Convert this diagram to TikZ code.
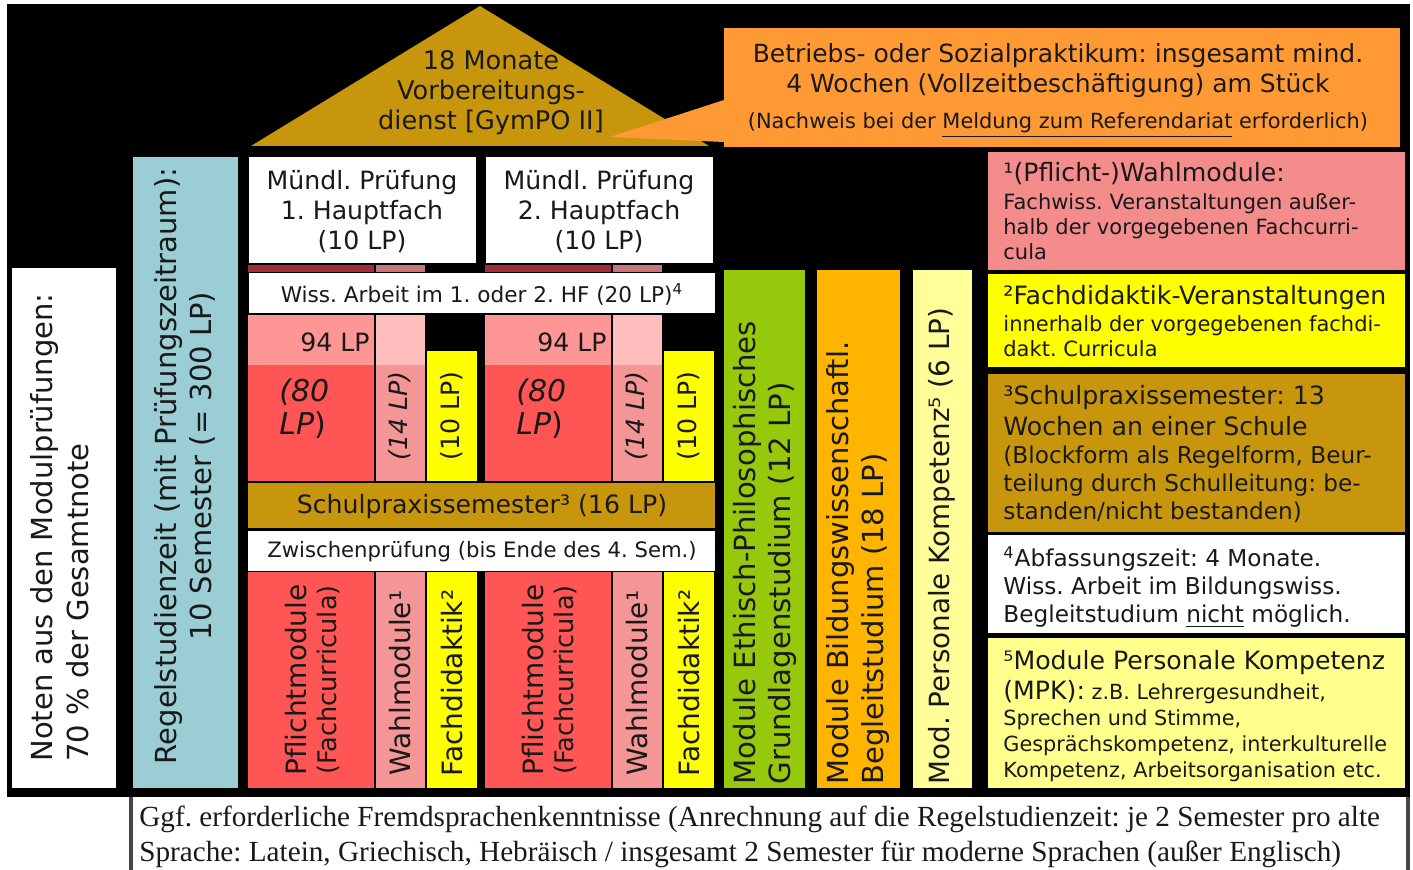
\documentclass[tikz,border=0pt]{standalone}
\usepackage{fontspec}
\setmainfont{DejaVu Sans}
\newfontfamily\serifnote{Liberation Serif}
\frenchspacing

\definecolor{gold}{RGB}{200,150,12}
\definecolor{praktorange}{RGB}{255,153,51}
\definecolor{rot}{RGB}{255,85,85}
\definecolor{rotlight}{RGB}{255,150,150}
\definecolor{rotdark}{RGB}{160,45,55}
\definecolor{rosa}{RGB}{245,150,150}
\definecolor{rosalight}{RGB}{255,190,190}
\definecolor{rosadark}{RGB}{200,120,125}
\definecolor{gelb}{RGB}{255,255,0}
\definecolor{hellblau}{RGB}{155,205,212}
\definecolor{gruen}{RGB}{150,200,12}
\definecolor{bworange}{RGB}{255,180,0}
\definecolor{hellgelb}{RGB}{255,255,153}
\definecolor{fnrosa}{RGB}{244,140,140}
\definecolor{fngelb}{RGB}{255,255,140}
\definecolor{grauline}{RGB}{70,70,70}

\tikzset{
  txt/.style={inner sep=0pt, text=black!90, align=center},
  big/.style={txt, font=\fontsize{12.6}{15}\selectfont},
  small/.style={txt, font=\fontsize{10.4}{12}\selectfont},
  side/.style={txt, rotate=90, font=\fontsize{14.5}{17.5}\selectfont},
  colnote/.style={side, font=\fontsize{14}{15}\selectfont},
  fnote/.style={txt, align=left, anchor=north west, font=\fontsize{10.5}{12.5}\selectfont},
}
\newcommand{\gross}{\fontsize{12.6}{15}\selectfont}

\begin{document}
\begin{tikzpicture}[x=0.5pt, y=-0.5pt]
  \useasboundingbox (0,0) rectangle (1413,870);
  \fill[black] (7,4) rectangle (1410,797);

  % roof: Vorbereitungsdienst
  \fill[gold] (251,146) -- (480,6) -- (709,146) -- cycle;
  \node[txt, font=\fontsize{12.8}{15}\selectfont] (vorb) at (491,93) {18 Monate\\Vorbereitungs-\\dienst [GymPO II]};

  % callout: Praktikum
  \coordinate (spitze) at (610,137);
  \fill[praktorange] (724,28) rectangle (1400,147);
  \fill[praktorange] (724,100) -- (spitze) -- (724,142) -- cycle;
  \node[txt, font=\fontsize{12.5}{15}\selectfont] (prakt) at (1058,71) {Betriebs- oder Sozialpraktikum: insgesamt mind.\\4 Wochen (Vollzeitbeschäftigung) am Stück};
  \node[txt, font=\fontsize{10.45}{12}\selectfont] (nachweis) at (1058,125) {(Nachweis bei der \underline{Meldung zum Referendariat} erforderlich)};

  % left side
  \fill[white] (12,268) rectangle (116,788);
  \node[side, anchor=west, align=left, font=\fontsize{14.5}{18}\selectfont] (noten) at (60,762) {Noten aus den Modulprüfungen:\\70 \% der Gesamtnote};
  \fill[hellblau] (133,157) rectangle (238,788);
  \node[side] (regel) at (185,466) {Regelstudienzeit (mit Prüfungszeitraum):\\10 Semester (= 300 LP)};

  % Hauptfaecher
  \foreach \i/\dx in {1/0, 2/237} {
    \fill[white] (249+\dx,157) rectangle (476+\dx,263);
    \node[big] (muendl\i) at (362+\dx,212) {Mündl. Prüfung\\\i. Hauptfach\\(10 LP)};
    \fill[rotdark] (248+\dx,265) rectangle (374+\dx,272);
    \fill[rosadark] (376+\dx,265) rectangle (425+\dx,272);
    % upper part
    \fill[rotlight] (248+\dx,315) rectangle (374+\dx,365);
    \fill[rot] (248+\dx,365) rectangle (374+\dx,481);
    \fill[rosalight] (376+\dx,315) rectangle (425+\dx,365);
    \fill[rosa] (376+\dx,365) rectangle (425+\dx,481);
    \fill[gelb] (427+\dx,351) rectangle (477+\dx,481);
    \node[big, anchor=east] (lpges\i) at (370+\dx,342) {94 LP};
    \node[txt, align=left, anchor=north west, font=\fontsize{15}{16.5}\selectfont] (lppflicht\i) at (279+\dx,378) {\textit{(80}\\\textit{LP})};
    \node[big, rotate=90] (lpwahl\i) at (400+\dx,416) {\textit{(14 LP)}};
    \node[big, rotate=90] (lpfd\i) at (452+\dx,416) {(10 LP)};
    % lower part
    \fill[rot] (248+\dx,572) rectangle (374+\dx,788);
    \fill[rosa] (376+\dx,572) rectangle (425+\dx,788);
    \fill[gelb] (427+\dx,572) rectangle (477+\dx,788);
    \node[colnote] (pflicht\i) at (313+\dx,680) {Pflichtmodule\\{\fontsize{12.8}{13}\selectfont(Fachcurricula)}};
    \node[colnote] (wahl\i) at (400+\dx,683) {Wahlmodule¹};
    \node[colnote] (fd\i) at (452+\dx,683) {Fachdidaktik²};
  }

  % bars across both subjects
  \fill[white] (249,273) rectangle (715,313);
  \node[txt, font=\fontsize{10.8}{12}\selectfont] (wiss) at (482,294) {Wiss. Arbeit im 1. oder 2. HF (20 LP)\textsuperscript{4}};
  \fill[gold] (248,483) rectangle (715,528);
  \node[big] (spsem) at (482,507) {Schulpraxissemester³ (16 LP)};
  \fill[white] (248,531) rectangle (715,571);
  \node[txt, font=\fontsize{10.6}{12}\selectfont] (zwp) at (482,552) {Zwischenprüfung (bis Ende des 4. Sem.)};

  % Begleitstudium
  \fill[gruen] (724,270) rectangle (805,788);
  \node[side, anchor=west, align=left, font=\fontsize{14.6}{17.5}\selectfont] (ethik) at (765,785) {Module Ethisch-Philosophisches\\Grundlagenstudium (12 LP)};
  \fill[bworange] (817,270) rectangle (900,788);
  \node[side, anchor=west, align=left] (bildung) at (858,785) {Module Bildungswissenschaftl.\\Begleitstudium (18 LP)};
  \fill[hellgelb] (913,270) rectangle (972,788);
  \node[side, anchor=west, font=\fontsize{13.9}{16}\selectfont] (mpk) at (942,785) {Mod. Personale Kompetenz⁵ (6 LP)};

  % footnotes
  \fill[fnrosa] (988,152) rectangle (1405,270);
  \node[fnote] (fn1) at (1003,162) {{\gross ¹(Pflicht-)Wahlmodule:}\\[1.5pt]Fachwiss. Veranstaltungen außer-\\halb der vorgegebenen Fachcurri-\\cula};
  \fill[gelb] (988,274) rectangle (1405,367);
  \node[fnote] (fn2) at (1003,285) {{\gross ²Fachdidaktik-Veranstaltungen}\\[1pt]innerhalb der vorgegebenen fachdi-\\dakt. Curricula};
  \fill[gold] (988,374) rectangle (1405,532);
  \node[fnote, font=\fontsize{11.6}{14}\selectfont] (fn3) at (1003,385) {{\gross ³Schulpraxissemester: 13}\\[1.5pt]{\gross Wochen an einer Schule}\\(Blockform als Regelform, Beur-\\teilung durch Schulleitung: be-\\standen/nicht bestanden)};
  \fill[white] (988,535) rectangle (1405,633);
  \node[fnote, font=\fontsize{11.6}{14}\selectfont] (fn4) at (1003,546) {\textsuperscript{4}Abfassungszeit: 4 Monate.\\Wiss. Arbeit im Bildungswiss.\\Begleitstudium \underline{nicht} möglich.};
  \fill[fngelb] (988,638) rectangle (1405,788);
  \node[fnote, font=\fontsize{10.4}{13}\selectfont] (fn5) at (1003,650) {{\gross ⁵Module Personale Kompetenz}\\[2pt]{\gross (MPK):} z.B. Lehrergesundheit,\\Sprechen und Stimme,\\Gesprächskompetenz, interkulturelle\\Kompetenz, Arbeitsorganisation etc.};

  % Fremdsprachen
  \draw[line width=2pt, grauline] (131,797) -- (131,870);
  \draw[line width=2pt, grauline] (1408,797) -- (1408,870);
  \node[txt, align=left, anchor=north west, font=\serifnote\fontsize{14.6}{17.5}\selectfont] (fremd) at (139,806) {Ggf. erforderliche Fremdsprachenkenntnisse (Anrechnung auf die Regelstudienzeit: je 2 Semester pro alte\\Sprache: Latein, Griechisch, Hebräisch / insgesamt 2 Semester für moderne Sprachen (außer Englisch)};
\end{tikzpicture}
\end{document}
